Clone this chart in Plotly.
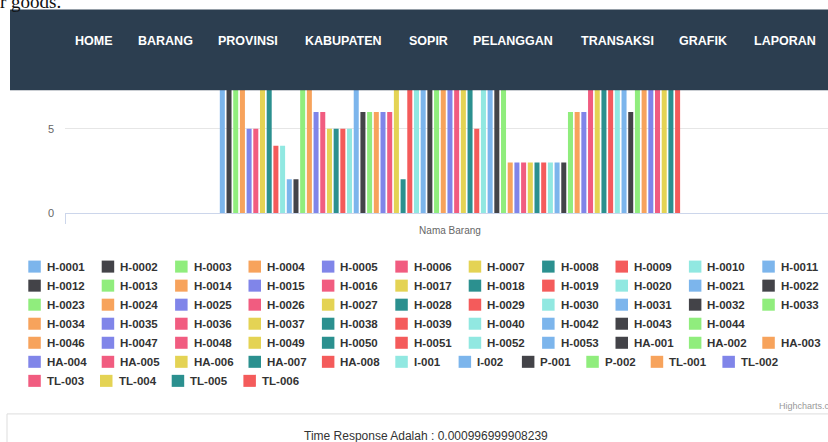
import plotly.graph_objects as go

W, H = 828, 442          # reference picture size (layout coordinates below are in these pixels)
FIG_H = 449              # page height that ends up squeezed into the 442-px photo

# ---------------- data ----------------
series_names = [
    "H-0001", "H-0002", "H-0003", "H-0004", "H-0005", "H-0006", "H-0007", "H-0008", "H-0009", "H-0010",
    "H-0011", "H-0012", "H-0013", "H-0014", "H-0015", "H-0016", "H-0017", "H-0018", "H-0019", "H-0020",
    "H-0021", "H-0022", "H-0023", "H-0024", "H-0025", "H-0026", "H-0027", "H-0028", "H-0029", "H-0030",
    "H-0031", "H-0032", "H-0033", "H-0034", "H-0035", "H-0036", "H-0037", "H-0038", "H-0039", "H-0040",
    "H-0042", "H-0043", "H-0044", "H-0046", "H-0047", "H-0048", "H-0049", "H-0050", "H-0051", "H-0052",
    "H-0053", "HA-001", "HA-002", "HA-003", "HA-004", "HA-005", "HA-006", "HA-007", "HA-008", "I-001",
    "I-002", "P-001", "P-002", "TL-001", "TL-002", "TL-003", "TL-004", "TL-005", "TL-006",
]
# bars taller than ~7 are hidden behind the page navbar: estimated
series_values = [
    9, 9, 9, 8, 5, 5, 8, 8, 4, 4,
    2, 2, 9, 8, 6, 6, 5, 5, 5, 5,
    8, 6, 6, 6, 6, 6, 8, 2, 8, 8,
    8, 8, 8, 8, 8, 8, 8, 8, 5, 8,
    8, 8, 8, 3, 3, 3, 3, 3, 3, 3,
    3, 3, 6, 6, 6, 8, 8, 8, 8, 8,
    8, 6, 8, 8, 8, 8, 8, 8, 8,
]
categories = ["Nama Barang"]
y_tick_values = [0, 5]
nav_items = ["HOME", "BARANG", "PROVINSI", "KABUPATEN", "SOPIR", "PELANGGAN", "TRANSAKSI", "GRAFIK", "LAPORAN"]
time_response = "0.000996999908239"

# ---------------- style / layout ----------------
palette = ['#7cb5ec', '#434348', '#90ed7d', '#f7a35c', '#8085e9',
           '#f15c80', '#e4d354', '#2b908f', '#f45b5b', '#91e8e1']
nav_x = [74, 136.7, 217.3, 304, 408, 472.3, 579.7, 678.3, 753]
legend_row_lengths = [11, 11, 11, 10, 11, 11, 4]
legend_row_y0 = 266
legend_row_step = 19
legend_x0 = 28.3
char_w = {"H": 8.3, "A": 6.0, "I": 4.2, "P": 5.3, "T": 6.3, "L": 6.3, "-": 4.1}
FONT = "Liberation Sans, Arial, sans-serif"


def px(x):
    return x / W


def py(y):
    return 1 - y / H


def text_w(s):
    return sum(char_w.get(c, 6.0) for c in s)


fig = go.Figure()
for i, (name, val) in enumerate(zip(series_names, series_values)):
    fig.add_trace(go.Bar(
        name=name, x=categories, y=[val],
        marker=dict(color=palette[i % len(palette)], line=dict(width=0)),
        showlegend=False, hoverinfo="name+y",
    ))

shapes = []
annotations = []

# navbar
shapes.append(dict(type="rect", xref="paper", yref="paper", x0=px(10), x1=1.0, y0=py(90), y1=py(9.5),
                   fillcolor="#2c3e50", line=dict(width=0), layer="above"))
for label, x in zip(nav_items, nav_x):
    annotations.append(dict(text="<b>%s</b>" % label, x=px(x), y=py(41), xref="paper", yref="paper",
                            xanchor="left", yanchor="middle", showarrow=False, borderpad=0,
                            font=dict(family=FONT, size=12.5, color="#ffffff")))

# page text cut at the top
annotations.append(dict(text="r goods.", x=px(-1), y=py(1.5), xref="paper", yref="paper",
                        xanchor="left", yanchor="middle", showarrow=False, borderpad=0,
                        font=dict(family="Liberation Serif, Times New Roman, serif", size=19, color="#111111")))

# manual legend (Highcharts-like)
idx = 0
for r, n in enumerate(legend_row_lengths):
    x = legend_x0
    yc = legend_row_y0 + r * legend_row_step
    for _ in range(n):
        if idx >= len(series_names):
            break
        name = series_names[idx]
        col = palette[idx % len(palette)]
        shapes.append(dict(type="rect", xref="paper", yref="paper",
                           x0=px(x), x1=px(x + 12.5), y0=py(yc + 6), y1=py(yc - 6),
                           fillcolor=col, line=dict(width=0)))
        annotations.append(dict(text="<b>%s</b>" % name, x=px(x + 17.5), y=py(yc + 0.5),
                                xref="paper", yref="paper", xanchor="left", yanchor="middle",
                                showarrow=False, borderpad=0,
                                font=dict(family=FONT, size=11.5, color="#333333")))
        x += 12 + 5 + text_w(name) + 20
        idx += 1

# credits
annotations.append(dict(text="Highcharts.com", x=px(778), y=py(405), xref="paper", yref="paper",
                        xanchor="left", yanchor="middle", showarrow=False, borderpad=0,
                        font=dict(family=FONT, size=9, color="#999999")))

# bottom panel
shapes.append(dict(type="line", xref="paper", yref="paper", x0=px(7), x1=1.0, y0=py(413), y1=py(413),
                   line=dict(color="#dddddd", width=1)))
shapes.append(dict(type="line", xref="paper", yref="paper", x0=px(7), x1=px(7), y0=py(413), y1=0,
                   line=dict(color="#dddddd", width=1)))
annotations.append(dict(text="Time Response Adalah : " + time_response, x=px(426), y=py(435),
                        xref="paper", yref="paper", xanchor="center", yanchor="middle",
                        showarrow=False, borderpad=0,
                        font=dict(family=FONT, size=12, color="#333333")))

fig.update_layout(
    width=W, height=FIG_H, autosize=False,
    margin=dict(l=0, r=0, t=0, b=0, pad=0),
    paper_bgcolor="#ffffff", plot_bgcolor="#ffffff",
    barmode="group", bargap=0.4, bargroupgap=0.25,
    showlegend=False,
    shapes=shapes, annotations=annotations,
    xaxis=dict(type="category", domain=[px(65), 1.0], range=[-0.5, 0.491],
               showline=True, linecolor="#ccd6eb", linewidth=1,
               ticks="outside", tickson="boundaries", ticklen=10, tickcolor="#ccd6eb",
               ticklabelstandoff=8,
               showgrid=False, zeroline=False,
               tickfont=dict(family=FONT, size=10, color="#666666")),
    yaxis=dict(domain=[py(212.5), py(44.5)], range=[0, 10], tickvals=y_tick_values,
               showgrid=True, gridcolor="#e6e6e6", gridwidth=1, zeroline=False,
               ticks="", ticklabelstandoff=10,
               tickfont=dict(family=FONT, size=11, color="#666666")),
    font=dict(family=FONT),
)

fig.write_html(
    "out.html",
    config={"displayModeBar": False},
    post_script="document.body.style.margin='0';document.body.style.overflow='hidden';",
)
